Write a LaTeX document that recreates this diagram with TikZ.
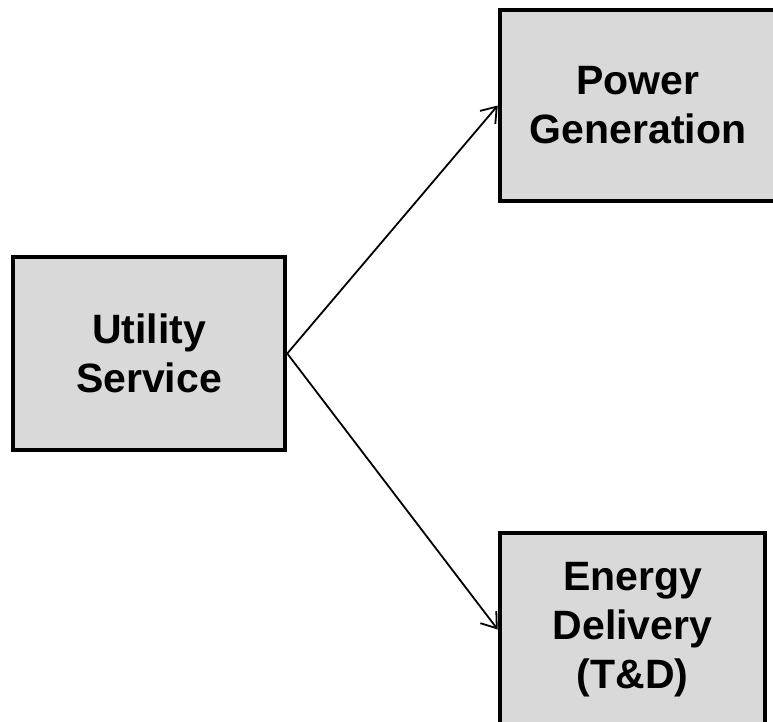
\documentclass[tikz,border=0pt]{standalone}
\usepackage{fontspec}
\setmainfont{Liberation Sans}
\usetikzlibrary{arrows.meta}
\definecolor{boxfill}{HTML}{D9D9D9}
\begin{document}
\begin{tikzpicture}[x=1pt,y=-1pt,
  blockbox/.style={draw=black, fill=boxfill, line width=4.5pt, rectangle,
    align=center, inner sep=0pt,
    font=\fontsize{41}{49}\selectfont\bfseries},
  conn/.style={line width=1.8pt, -{Straight Barb[length=14pt,width=20pt,line width=1.8pt]}}]
\useasboundingbox (0,0) rectangle (773,722);
\node[blockbox, minimum width=272pt, minimum height=193pt] (U) at (149,353.5) {Utility\\Service};
\node[blockbox, minimum width=276pt, minimum height=191pt] (P) at (638,105.5) {Power\\Generation};
\node[blockbox, minimum width=265pt, minimum height=193pt] (E) at (632.5,629.5) {Energy\\Delivery\\(T\&D)};
\draw[conn] (U.east) -- (P.west);
\draw[conn] (U.east) -- (E.west);
\end{tikzpicture}
\end{document}
